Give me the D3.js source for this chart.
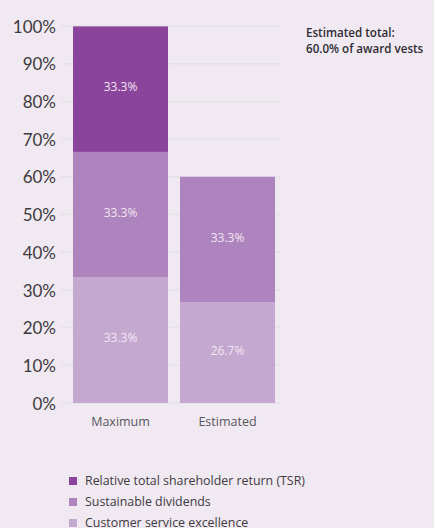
<!DOCTYPE html>
<html>
<head>
<meta charset="utf-8">
<script src="https://cdn.jsdelivr.net/npm/d3@7"></script>
<style>
  body { margin: 0; background: #f0e9f1; }
  svg { display: block; }
</style>
</head>
<body>
<div id="chart"></div>
<script>
(function() {
  var width = 434,
      height = 528;

  // chart data
  var categories = ['Maximum', 'Estimated'];
  var seriesNames = ['Customer service excellence', 'Sustainable dividends', 'Relative total shareholder return (TSR)'];
  var customerService = [33.3, 26.7];
  var dividends = [33.3, 33.3];
  var tsr = [33.3, 0];
  var yTicks = [0, 10, 20, 30, 40, 50, 60, 70, 80, 90, 100];
  var legendOrder = ['Relative total shareholder return (TSR)', 'Sustainable dividends', 'Customer service excellence'];
  var noteLines = ['Estimated total:', '60.0% of award vests'];

  var colors = {
    'Relative total shareholder return (TSR)': '#8a449b',
    'Sustainable dividends': '#ad84bd',
    'Customer service excellence': '#c4a8d0'
  };

  // build rows for the stack
  var rows = categories.map(function(c, i) {
    var r = { category: c };
    r[seriesNames[0]] = customerService[i];
    r[seriesNames[1]] = dividends[i];
    r[seriesNames[2]] = tsr[i];
    return r;
  });
  var stacked = d3.stack().keys(seriesNames)(rows);

  var svg = d3.select('#chart').append('svg')
      .attr('width', width)
      .attr('height', height);

  var y = d3.scaleLinear().domain([0, 100]).range([403, 26]);
  var x = d3.scaleBand().domain(categories).range([67, 281])
      .paddingInner(0.112).paddingOuter(0.056);

  // gridlines
  svg.append('g').selectAll('line').data(yTicks).enter().append('line')
      .attr('x1', 61).attr('x2', 281)
      .attr('y1', function(d) { return y(d); })
      .attr('y2', function(d) { return y(d); })
      .attr('stroke', '#e4e1e8')
      .attr('stroke-width', 1.5);

  // y axis labels
  var yAxis = d3.axisLeft(y).tickValues(yTicks).tickSize(0).tickPadding(0)
      .tickFormat(function(d) { return d + '%'; });
  var ya = svg.append('g').attr('transform', 'translate(56,0)').call(yAxis);
  ya.select('.domain').remove();
  ya.selectAll('text')
      .attr('font-family', 'Lato, sans-serif')
      .attr('font-size', 17)
      .attr('fill', '#3d3a40')
      .attr('dy', '0.36em');

  // bars
  var layers = svg.append('g').selectAll('g').data(stacked).enter().append('g')
      .attr('fill', function(d) { return colors[d.key]; });

  layers.selectAll('rect').data(function(d) { return d.filter(function(p) { return p[1] - p[0] > 0; }); })
    .enter().append('rect')
      .attr('x', function(d) { return x(d.data.category); })
      .attr('y', function(d) { return y(d[1]); })
      .attr('width', x.bandwidth())
      .attr('height', function(d) { return y(d[0]) - y(d[1]); });

  layers.selectAll('text').data(function(d) { return d.filter(function(p) { return p[1] - p[0] > 0; }); })
    .enter().append('text')
      .attr('x', function(d) { return x(d.data.category) + x.bandwidth() / 2; })
      .attr('y', function(d) { return (y(d[0]) + y(d[1])) / 2 - 2; })
      .attr('dy', '0.35em')
      .attr('text-anchor', 'middle')
      .attr('font-family', '"Open Sans", sans-serif')
      .attr('font-size', 12)
      .attr('fill', '#f3e6f3')
      .text(function(d) { return (d[1] - d[0]).toFixed(1) + '%'; });

  // x axis labels
  var xAxis = d3.axisBottom(x).tickSize(0).tickPadding(0);
  var xa = svg.append('g').attr('transform', 'translate(0,' + 417 + ')').call(xAxis);
  xa.select('.domain').remove();
  xa.selectAll('text')
      .attr('font-family', '"Open Sans", sans-serif')
      .attr('font-size', 12.5)
      .attr('fill', '#5a565e');

  // annotation
  svg.append('g').selectAll('text').data(noteLines).enter().append('text')
      .attr('x', 306)
      .attr('y', function(d, i) { return 37 + i * 16; })
      .attr('font-family', '"Open Sans", sans-serif')
      .attr('font-size', 11.6)
      .attr('font-weight', 600)
      .attr('fill', '#2f2c33')
      .text(function(d) { return d; });

  // legend
  var legend = svg.append('g').selectAll('g').data(legendOrder).enter().append('g')
      .attr('transform', function(d, i) { return 'translate(69,' + (477 + i * 21) + ')'; });
  legend.append('rect')
      .attr('width', 8).attr('height', 8)
      .attr('fill', function(d) { return colors[d]; });
  legend.append('text')
      .attr('x', 16).attr('y', 4)
      .attr('dy', '0.35em')
      .attr('font-family', '"Open Sans", sans-serif')
      .attr('font-size', 12.4)
      .attr('fill', '#3d3a40')
      .text(function(d) { return d; });
})();
</script>
</body>
</html>
